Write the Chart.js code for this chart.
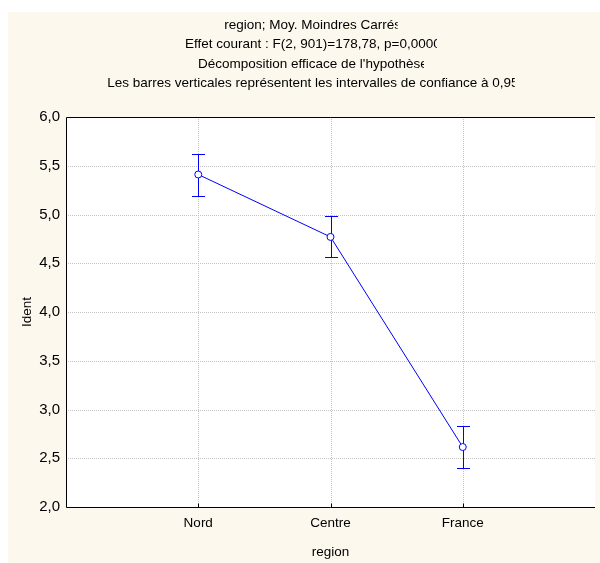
<!DOCTYPE html>
<html>
<head>
<meta charset="utf-8">
<script src="https://cdn.jsdelivr.net/npm/chart.js@4.4.1/dist/chart.umd.min.js"></script>
<style>
    html, body { margin: 0; padding: 0; background: #ffffff; }
    #wrap { width: 600px; height: 563px; }
</style>
</head>
<body>
<div id="wrap"><canvas id="meansChart" width="600" height="563"></canvas></div>
<script>
// data
const categories = ['Nord', 'Centre', 'France'];
const means = [5.41, 4.77, 2.615];
const ciLow = [5.19, 4.56, 2.40];
const ciHigh = [5.62, 4.98, 2.83];
const yTicks = [2.0, 2.5, 3.0, 3.5, 4.0, 4.5, 5.0, 5.5, 6.0];
const titleLines = [
    'region; Moy. Moindres Carrés',
    'Effet courant : F(2, 901)=178,78, p=0,0000',
    "Décomposition efficace de l'hypothèse",
    'Les barres verticales représentent les intervalles de confiance à 0,95'
];

const FONT = '"Liberation Sans", Arial, sans-serif';
const BLUE = '#0000ff';
const INK = '#000000';

document.addEventListener('DOMContentLoaded', function() {
    const ctx = document.getElementById('meansChart');

    // cream panel, white plot area, title block
    const backdrop = {
        id: 'backdrop',
        beforeDraw(chart) {
            const c = chart.ctx;
            const a = chart.chartArea;
            c.save();
            c.fillStyle = '#ffffff';
            c.fillRect(0, 0, chart.width, chart.height);
            c.fillStyle = '#fdf8ee';
            c.fillRect(8, 12, chart.width - 8, chart.height - 12);
            c.fillStyle = '#ffffff';
            c.fillRect(a.left, a.top, a.right - a.left, a.bottom - a.top);

            // title lines, the last glyph is cut like in the original
            c.font = '13.5px ' + FONT;
            c.fillStyle = INK;
            c.textBaseline = 'middle';
            titleLines.forEach(function(line, i) {
                const w = c.measureText(line).width;
                const lastW = c.measureText(line.slice(-1)).width;
                const visible = w - lastW * 0.5;
                const x0 = 311 - visible / 2;
                const y = 25 + i * 19.5;
                c.save();
                c.beginPath();
                c.rect(x0 - 2, y - 12, visible + 2, 24);
                c.clip();
                c.textAlign = 'left';
                c.fillText(line, x0, y);
                c.restore();
            });
            c.restore();
        }
    };

    // dotted grid, frame, error bars
    const frameAndBars = {
        id: 'frameAndBars',
        beforeDatasetsDraw(chart) {
            const c = chart.ctx;
            const a = chart.chartArea;
            const xs = chart.scales.x;
            const ys = chart.scales.y;
            c.save();
            c.lineWidth = 1;
            c.strokeStyle = '#c4c4c4';
            c.setLineDash([1, 1]);
            yTicks.slice(1, -1).forEach(function(v) {
                const y = Math.round(ys.getPixelForValue(v)) + 0.5;
                c.beginPath();
                c.moveTo(a.left, y);
                c.lineTo(a.right, y);
                c.stroke();
            });
            categories.forEach(function(cat, i) {
                const x = Math.round(xs.getPixelForValue(i + 1)) + 0.5;
                c.beginPath();
                c.moveTo(x, a.top);
                c.lineTo(x, a.bottom);
                c.stroke();
            });
            c.setLineDash([]);

            // frame: top, left, bottom
            c.strokeStyle = '#000000';
            const top = Math.round(a.top) + 0.5;
            const bottom = Math.round(a.bottom) + 0.5;
            const left = Math.round(a.left) + 0.5;
            c.beginPath();
            c.moveTo(a.right, top);
            c.lineTo(left, top);
            c.lineTo(left, bottom);
            c.lineTo(a.right, bottom);
            c.stroke();

            // small inward ticks on the x axis
            categories.forEach(function(cat, i) {
                const x = Math.round(xs.getPixelForValue(i + 1)) + 0.5;
                c.beginPath();
                c.moveTo(x, bottom);
                c.lineTo(x, bottom - 4);
                c.stroke();
            });

            // confidence interval bars
            c.strokeStyle = BLUE;
            categories.forEach(function(cat, i) {
                const x = Math.round(xs.getPixelForValue(i + 1)) + 0.5;
                const yHi = Math.round(ys.getPixelForValue(ciHigh[i])) + 0.5;
                const yLo = Math.round(ys.getPixelForValue(ciLow[i])) + 0.5;
                c.beginPath();
                c.moveTo(x, yHi);
                c.lineTo(x, yLo);
                c.moveTo(x - 6.5, yHi);
                c.lineTo(x + 6.5, yHi);
                c.moveTo(x - 6.5, yLo);
                c.lineTo(x + 6.5, yLo);
                c.stroke();
            });
            c.restore();
        }
    };

    new Chart(ctx, {
        type: 'line',
        data: {
            datasets: [{
                data: means.map((m, i) => ({ x: i + 1, y: m })),
                borderColor: BLUE,
                borderWidth: 1,
                pointRadius: 3.5,
                pointBackgroundColor: '#ffffff',
                pointBorderColor: BLUE,
                pointBorderWidth: 1,
                tension: 0
            }]
        },
        options: {
            responsive: false,
            animation: false,
            layout: {
                padding: { top: 117, left: 0, right: 0, bottom: 0 }
            },
            plugins: {
                legend: { display: false },
                tooltip: { enabled: false }
            },
            scales: {
                x: {
                    type: 'linear',
                    min: 0,
                    max: 4,
                    afterBuildTicks: function(scale) {
                        scale.ticks = categories.map((c, i) => ({ value: i + 1 }));
                    },
                    afterFit: function(scale) {
                        scale.height = 56;
                    },
                    grid: { display: false, drawTicks: false },
                    border: { display: false },
                    ticks: {
                        padding: 8,
                        color: INK,
                        font: { family: FONT, size: 13.5 },
                        maxRotation: 0,
                        callback: function(value) {
                            return categories[value - 1];
                        }
                    },
                    title: {
                        display: true,
                        text: 'region',
                        color: INK,
                        font: { family: FONT, size: 13.5 },
                        padding: { top: 0, bottom: 3 }
                    }
                },
                y: {
                    min: yTicks[0],
                    max: yTicks[yTicks.length - 1],
                    afterBuildTicks: function(scale) {
                        scale.ticks = yTicks.map(v => ({ value: v }));
                    },
                    afterFit: function(scale) {
                        scale.width = 66;
                    },
                    grid: { display: false, drawTicks: false },
                    border: { display: false },
                    ticks: {
                        padding: 6,
                        color: INK,
                        font: { family: FONT, size: 15 },
                        callback: function(value) {
                            return value.toFixed(1).replace('.', ',');
                        }
                    },
                    title: {
                        display: true,
                        text: 'Ident',
                        color: INK,
                        font: { family: FONT, size: 13.5 },
                        padding: { top: 19, bottom: 0 }
                    }
                }
            }
        },
        plugins: [backdrop, frameAndBars]
    });
});
</script>
</body>
</html>
